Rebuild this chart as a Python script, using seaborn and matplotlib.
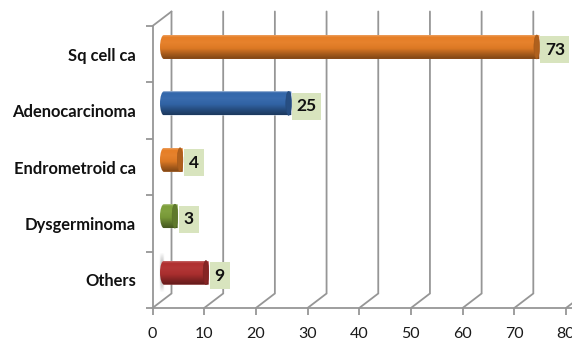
import numpy as np
import pandas as pd
import seaborn as sns
import matplotlib
matplotlib.use("Agg")
import matplotlib.pyplot as plt
from matplotlib.path import Path
from matplotlib.patches import PathPatch, Ellipse, Rectangle
from matplotlib.colors import to_rgb
from matplotlib.transforms import ScaledTranslation

categories = ["Sq cell ca", "Adenocarcinoma", "Endrometroid ca", "Dysgerminoma", "Others"]
values = [73, 25, 4, 3, 9]
colors = ["#E67E26", "#3367AB", "#7D9F3A", "#B03030"]
bar_colors = [colors[0], colors[1], colors[0], colors[2], colors[3]]
x_ticks = [0, 10, 20, 30, 40, 50, 60, 70, 80]

W, H = 572, 343
GRID = "#969696"
LABEL_BG = "#D8E4BE"
FONT = "Lato"

sns.set_theme(style="white")
plt.rcParams["font.family"] = [FONT, "DejaVu Sans"]

fig = plt.figure(figsize=(W / 100, H / 100), dpi=100, facecolor="white")
ax = fig.add_axes([152.5 / W, (H - 308) / H, (566 - 152.5) / W, (308 - 26) / H])
df = pd.DataFrame({"cat": categories, "val": values})
sns.barplot(data=df, x="val", y="cat", hue="cat", palette=bar_colors, order=categories,
            hue_order=categories, legend=False, width=0.425, ax=ax, saturation=1, zorder=3)
ax.set_xlim(0, 80)
ax.set_ylim(4.5, -0.5)
ax.set_xlabel("")
ax.set_ylabel("")
ax.patch.set_alpha(0)

px_x = 80 / (566 - 152.5)      # data units per pixel, x
px_y = 5 / (308 - 26)          # data units per pixel, y
full_dx, full_dy = 19 * px_x, 14.5 * px_y

for s in ["top", "right"]:
    ax.spines[s].set_visible(False)
for s in ["left", "bottom"]:
    ax.spines[s].set_color(GRID)
    ax.spines[s].set_linewidth(1.3)
ax.spines["bottom"].set_bounds(0, 80 + 6 * px_x)
ax.spines["bottom"].set_clip_on(False)

# gridlines on the back wall, joined to the front axis by the depth diagonal
for t in x_ticks:
    ax.plot([t, t + full_dx, t + full_dx], [4.5, 4.5 - full_dy, -0.5 - full_dy],
            color=GRID, lw=1.3, clip_on=False, zorder=1, solid_joinstyle="miter")
ax.plot([0, full_dx], [-0.5, -0.5 - full_dy], color=GRID, lw=1.3, clip_on=False, zorder=1)

ax.set_xticks(x_ticks)
ax.set_xticklabels([str(t) for t in x_ticks], fontsize=11.5, color="#1A1A1A")
ax.tick_params(axis="x", length=5, width=1.3, color=GRID, pad=8.5, bottom=True)
ax.set_yticks(range(len(categories)))
ax.set_yticklabels(categories, fontsize=11.9, fontweight="bold", color="#111111")
ax.set_yticks(np.arange(-0.5, 5), minor=True)
ax.tick_params(axis="y", which="major", length=0, pad=12)
ax.tick_params(axis="y", which="minor", length=5, width=1.3, color=GRID, left=True)

# bars sit midway through the depth
depth = ax.transData + ScaledTranslation(9.5 / 100, 7.25 / 100, fig.dpi_scale_trans)


def shade(rgb, f):
    rgb = np.array(rgb)
    return rgb * f if f <= 1 else rgb + (1 - rgb) * (f - 1)


stops = np.array([0, .08, .3, .55, .8, 1])
facs = [1.25, 1.0, 1.03, .96, .72, .55]
ys = np.linspace(0, 1, 48)
for bar, col, v in zip(ax.patches, bar_colors, values):
    rgb = to_rgb(col)
    y0, h = bar.get_y(), bar.get_height()
    x1 = bar.get_x() + bar.get_width()
    rx, ry = 4 * px_x, h / 2
    k = 0.55
    xc = 2 * px_x
    verts = [(xc, y0), (xc - k * rx, y0), (xc - rx, y0 + ry * (1 - k)), (xc - rx, y0 + ry),
             (xc - rx, y0 + ry * (1 + k)), (xc - k * rx, y0 + h), (xc, y0 + h),
             (x1, y0 + h), (x1, y0), (xc, y0)]
    codes = [Path.MOVETO, Path.CURVE4, Path.CURVE4, Path.CURVE4, Path.CURVE4, Path.CURVE4,
             Path.CURVE4, Path.LINETO, Path.LINETO, Path.CLOSEPOLY]
    clip = PathPatch(Path(verts, codes), transform=depth, fc="none", ec="none")
    ax.add_patch(clip)
    bar.set_transform(depth)
    bar.set_clip_path(clip)
    grad = np.array([[[np.interp(t, stops, [shade(rgb, f)[i] for f in facs]) for i in range(3)]]
                     for t in ys])
    im = ax.imshow(grad, extent=(xc - rx, x1, y0 + h, y0), aspect="auto", transform=depth,
                   zorder=4, interpolation="bilinear")
    im.set_clip_path(clip)
    cap = Ellipse((x1 - 2.6 * px_x, y0 + ry), 5.6 * px_x, h * 1.0, transform=depth,
                  fc=shade(rgb, .76), ec=shade(rgb, .7), lw=.4, zorder=5)
    ax.add_patch(cap)
    # value label
    cx = x1 + 1.0 * px_x
    cy = y0 + ry + 3 * px_y
    wpx = 29 if v >= 10 else 20
    ax.add_patch(Rectangle((cx, cy - 13.5 * px_y), wpx * px_x, 27 * px_y, transform=depth,
                           fc=LABEL_BG, ec="none", zorder=6, clip_on=False))
    ax.text(cx + wpx / 2 * px_x, cy, str(v), transform=depth, ha="center", va="center",
            fontsize=12.5, fontweight="bold", color="#111111", zorder=7, clip_on=False)

# faint floor smudge behind the lowest bar
smudge = np.ones((40, 8, 4))
smudge[..., :3] = 0.6
smudge[..., 3] = np.outer(np.sin(np.linspace(0, np.pi, 40)), np.sin(np.linspace(0, np.pi, 8))) * .8
ax.imshow(smudge, extent=(-3 * px_x, 3 * px_x, 4 + 20 * px_y, 4 - 20 * px_y), aspect="auto",
          transform=depth, zorder=2)

ax.set_xlim(0, 80)
ax.set_ylim(4.5, -0.5)
fig.savefig("out.png", dpi=100)
